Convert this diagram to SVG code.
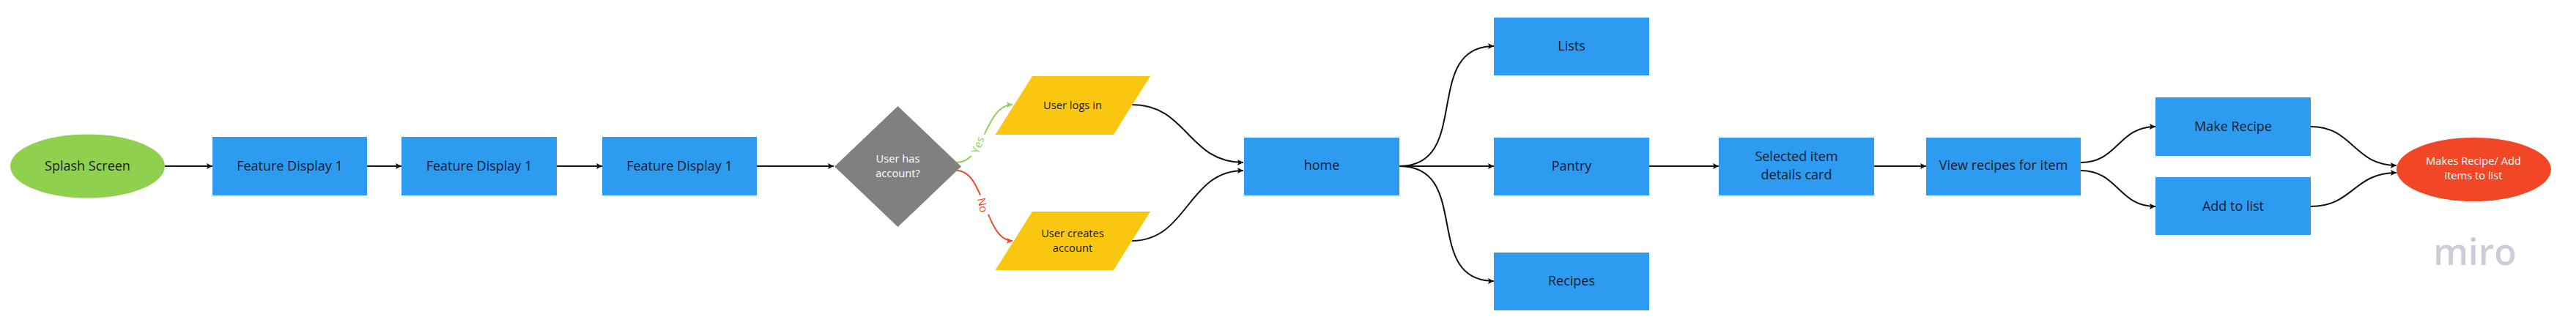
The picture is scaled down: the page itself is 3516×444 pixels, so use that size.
<svg xmlns="http://www.w3.org/2000/svg" width="3516" height="444" viewBox="0 0 3516 444">
<style>
text{font-family:"Open Sans","Noto Sans",sans-serif;text-anchor:middle;dominant-baseline:central;fill:#1a1a2e}
.l{font-size:18px}.s{font-size:14.700px}.w{fill:#fff}
.blue{fill:#2d9bf0}.yel{fill:#fac710}
.c{fill:none;stroke:#111;stroke-width:2;marker-end:url(#k)}
.g{fill:none;stroke:#8fd14f;stroke-width:2;marker-end:url(#mg)}
.r{fill:none;stroke:#f24726;stroke-width:2;marker-end:url(#mr)}
</style>
<defs>
<marker id="k" markerUnits="userSpaceOnUse" markerWidth="10" markerHeight="10" refX="9" refY="5" orient="auto"><path d="M1 1L9 5L1 9L2.500 5Z" fill="#111"/></marker>
<marker id="mg" markerUnits="userSpaceOnUse" markerWidth="10" markerHeight="10" refX="9" refY="5" orient="auto"><path d="M1 1L9 5L1 9L2.500 5Z" fill="#8fd14f"/></marker>
<marker id="mr" markerUnits="userSpaceOnUse" markerWidth="10" markerHeight="10" refX="9" refY="5" orient="auto"><path d="M1 1L9 5L1 9L2.500 5Z" fill="#f24726"/></marker>
</defs>
<rect width="3516" height="444" fill="#fff"/>
<g id="connectors">
<path class="c" d="M225 227H290"/>
<path class="c" d="M501 227H548"/>
<path class="c" d="M760 227H822"/>
<path class="c" d="M1033 227H1138"/>
<path class="g" d="M1306 222C1344 222 1344 143 1382 143"/>
<path class="r" d="M1306 233C1344 233 1344 329 1382 329"/>
<g transform="translate(1334 198) rotate(-70)"><rect x="-17" y="-12" width="34" height="24" fill="#fff"/><text class="s" style="fill:#8fd14f">Yes</text></g>
<g transform="translate(1342 280) rotate(78)"><rect x="-14" y="-12" width="28" height="24" fill="#fff"/><text class="s" style="fill:#f24726">No</text></g>
<path class="c" d="M1545 143C1621 143 1621 222 1697 222"/>
<path class="c" d="M1545 329C1621 329 1621 233 1697 233"/>
<path class="c" d="M1910 227C2010 227 1940 63 2039 63"/>
<path class="c" d="M1910 227H2039"/>
<path class="c" d="M1910 227C2010 227 1940 384 2039 384"/>
<path class="c" d="M2251 227H2346"/>
<path class="c" d="M2558 227H2629"/>
<path class="c" d="M2840 222C2891 222 2891 173 2942 173"/>
<path class="c" d="M2840 233C2891 233 2891 282 2942 282"/>
<path class="c" d="M3154 173C3212 173 3212 226 3271 226"/>
<path class="c" d="M3154 282C3212 282 3212 236 3271 236"/>
</g>
<g id="splash"><ellipse cx="119.500" cy="227" rx="105.500" ry="43.500" fill="#8fd14f"/><text class="l" x="119.500" y="226">Splash Screen</text></g>
<g id="feature1"><rect class="blue" x="290" y="187" width="211" height="80"/><text class="l" x="395.500" y="226">Feature Display 1</text></g>
<g id="feature2"><rect class="blue" x="548" y="187" width="212" height="80"/><text class="l" x="654" y="226">Feature Display 1</text></g>
<g id="feature3"><rect class="blue" x="822" y="187" width="211" height="80"/><text class="l" x="927.500" y="226">Feature Display 1</text></g>
<g id="decision"><path d="M1225.500 145L1312 227.500L1225.500 310L1139 227.500Z" fill="#808080"/><text class="s w" x="1225.500" y="216">User has</text><text class="s w" x="1225.500" y="236">account?</text></g>
<g id="login"><path class="yel" d="M1409 104H1570L1520 184H1358.500Z"/><text class="s" x="1464" y="143">User logs in</text></g>
<g id="create"><path class="yel" d="M1409 289H1570L1520 369H1358.500Z"/><text class="s" x="1464" y="318">User creates</text><text class="s" x="1464" y="338">account</text></g>
<g id="home"><rect class="blue" x="1698" y="188" width="212" height="79"/><text class="l" x="1804" y="225">home</text></g>
<g id="lists"><rect class="blue" x="2039" y="24" width="212" height="79"/><text class="l" x="2145" y="62">Lists</text></g>
<g id="pantry"><rect class="blue" x="2039" y="188" width="212" height="79"/><text class="l" x="2145" y="226">Pantry</text></g>
<g id="recipes"><rect class="blue" x="2039" y="345" width="212" height="79"/><text class="l" x="2145" y="383">Recipes</text></g>
<g id="selected"><rect class="blue" x="2346" y="188" width="212" height="79"/><text class="l" x="2452" y="213">Selected item</text><text class="l" x="2452" y="238">details card</text></g>
<g id="view"><rect class="blue" x="2629" y="188" width="211" height="79"/><text class="l" x="2734.500" y="225">View recipes for item</text></g>
<g id="make"><rect class="blue" x="2942" y="133" width="212" height="80"/><text class="l" x="3048" y="172">Make Recipe</text></g>
<g id="add"><rect class="blue" x="2942" y="242" width="212" height="79"/><text class="l" x="3048" y="281">Add to list</text></g>
<g id="end"><ellipse cx="3376.500" cy="231.500" rx="105.500" ry="43.500" fill="#f24726"/><text class="s w" x="3376" y="219">Makes Recipe/ Add</text><text class="s w" x="3376" y="239">items to list</text></g>
<text x="3378" y="343" style="font-size:50px;font-weight:600;fill:#cdcdda">miro</text>
</svg>
